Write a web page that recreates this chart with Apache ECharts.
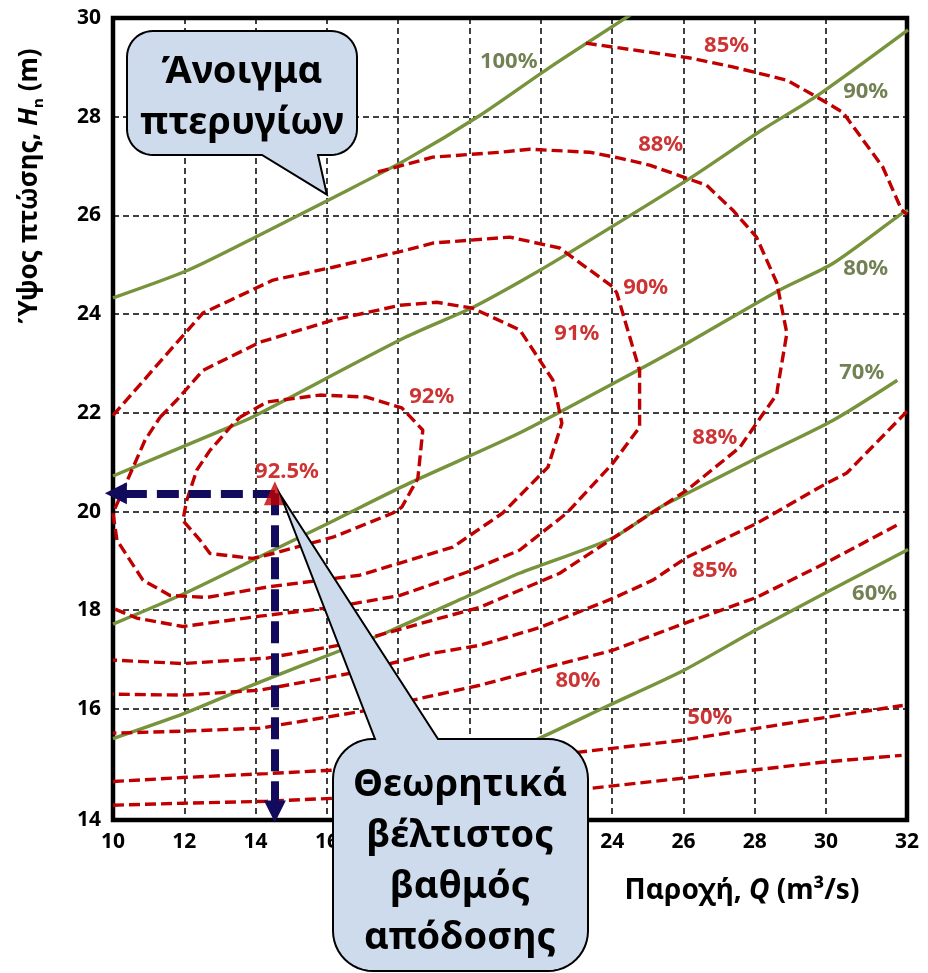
<!DOCTYPE html>
<html>
<head>
<meta charset="utf-8">
<title>Καμπύλες απόδοσης στροβίλου</title>
<script src="https://cdn.jsdelivr.net/npm/echarts@6/dist/echarts.min.js"></script>
<style>
  html, body { margin: 0; padding: 0; background: #fff; }
  #chart { width: 928px; height: 973px; }
</style>
</head>
<body>
<div id="chart"></div>
<script>
// axis ranges + tick labels
const X_MIN = 10
const X_MAX = 32.27
const Y_MIN = 13.75
const Y_MAX = 30
const xTickLabels = [10, 12, 14, 16, 18, 20, 22, 24, 26, 28, 30, 32]
const yTickLabels = [14, 16, 18, 20, 22, 24, 26, 28, 30]

// guide vane opening lines (green)
const vane100 = [[10, 24.33], [12.1, 24.89], [14.1, 25.6], [16.2, 26.37], [18.2, 27.12], [20.3, 28.03], [22.25, 29.0], [24.7, 30.15]]
const vane90 = [[10, 20.72], [13.2, 21.69], [13.9, 21.91], [18.2, 23.53], [20.1, 24.14], [21.4, 24.65], [22.7, 25.2], [26.2, 26.76], [28.2, 27.73], [29.7, 28.4], [32.3, 29.76]]
const vane80 = [[10, 17.72], [12, 18.34], [14.3, 19.15], [16.2, 19.82], [18.3, 20.57], [21.4, 21.59], [24.2, 22.66], [26.1, 23.41], [28.7, 24.49], [30.2, 25.03], [32.15, 26.05], [32.3, 26.1]]
const vane70 = [[10, 15.4], [12, 15.91], [14.1, 16.54], [16.4, 17.19], [17.8, 17.59], [20.3, 18.4], [21.4, 18.75], [24, 19.46], [25.3, 20.07], [26, 20.33], [28.1, 21.1], [30.2, 21.85], [32, 22.66]]
const vane60 = [[17.6, 14.0], [20, 14.78], [22, 15.42], [23.9, 16.07], [26, 16.78], [28, 17.59], [30, 18.36], [32.3, 19.23]]

// efficiency contours (red dashed)
const eta92 = [[13.56, 21.91], [14.32, 22.22], [15.8, 22.36], [17.12, 22.32], [18.1, 22.1], [18.69, 21.65], [18.55, 20.67], [18.1, 20.09], [17.85, 19.97], [16.17, 19.48], [14.49, 19.15], [13.92, 19.05], [12.72, 19.15], [12.44, 19.42], [11.96, 19.82], [12.07, 20.23], [12.35, 20.84], [12.72, 21.24], [13.34, 21.75], [13.56, 21.91]]
const eta91 = [[11.32, 21.91], [11.79, 22.26], [12.52, 22.86], [14.12, 23.43], [16.17, 23.88], [18.05, 24.18], [19.08, 24.24], [20.09, 24.12], [21.41, 23.68], [22.34, 22.66], [22.59, 21.79], [22.2, 20.9], [20.93, 19.97], [19.53, 19.28], [16.92, 18.71], [14.32, 18.47], [12.64, 18.26], [11.6, 18.3], [10.84, 18.61], [10.11, 19.42], [10, 19.97], [10.28, 20.43], [10.9, 21.45], [11.32, 21.91]]
const eta90 = [[10, 21.95], [12.52, 24.02], [14.49, 24.69], [16.17, 24.95], [18.24, 25.3], [18.97, 25.44], [21.13, 25.56], [22.53, 25.34], [24.02, 24.55], [24.13, 24.43], [24.77, 22.86], [24.77, 21.71], [24.02, 20.98], [22.73, 19.97], [21.41, 19.22], [19.92, 18.77], [18.05, 18.3], [16.17, 18.06], [14.12, 17.88], [11.96, 17.67], [10.67, 17.84], [10, 18.04]]
const eta88 = [[17.43, 26.88], [18.97, 27.18], [20.85, 27.28], [21.69, 27.34], [23.37, 27.28], [24.21, 27.16], [25.05, 27.02], [26.65, 26.61], [27.38, 26.11], [28.05, 25.56], [28.62, 24.63], [28.9, 23.61], [28.64, 22.5], [28.62, 22.38], [27.58, 21.3], [26.09, 20.43], [24.49, 19.68], [22.53, 18.75], [20.29, 18.06], [18.97, 17.8], [16.64, 17.33], [14.32, 17.03], [11.96, 16.92], [10, 16.99]]
const eta85Top = [[23.26, 29.49], [26.18, 29.19], [27.38, 29.01], [28.9, 28.74], [29.74, 28.4], [30.47, 28.09], [31.59, 26.98], [32.12, 26.11], [32.27, 26.02]]
const eta85Low = [[32.27, 22.03], [30.58, 20.78], [30.01, 20.57], [28.05, 19.76], [26.09, 19.07], [25.14, 18.61], [24.02, 18.24], [21.97, 17.65], [20.29, 17.29], [18.97, 17.13], [16.64, 16.72], [14.12, 16.38], [11.96, 16.28], [10, 16.3]]
const eta80 = [[31.98, 19.72], [30.02, 18.97], [28.05, 18.26], [25.9, 17.7], [24.02, 17.19], [22.73, 16.95], [20.29, 16.48], [18.97, 16.27], [17.12, 15.97], [14.12, 15.61], [11.96, 15.55], [10, 15.51]]
const eta50 = [[10, 14.53], [11.96, 14.61], [14.32, 14.69], [16.17, 14.76], [20, 14.93], [23.01, 15.12], [25.9, 15.36], [29.82, 15.81], [32.15, 16.07]]
const etaLow = [[10, 14.05], [11.96, 14.09], [14.32, 14.13], [16.17, 14.19], [23.37, 14.39], [25.9, 14.59], [29.88, 14.92], [32.12, 15.06]]

// best efficiency point + arrow ends
const optimum = [14.54, 20.37]
const optimumToH = [10.08, 20.37]
const optimumToQ = [14.54, 13.92]

// text labels [Q, H, text]
const vaneLabels = [[21.1, 29.11, '100%'], [31.11, 28.5, '90%'], [31.11, 24.91, '80%'], [31.0, 22.82, '70%'], [31.36, 18.34, '60%']]
const etaLabels = [[27.21, 29.43, '85%'], [25.36, 27.43, '88%'], [24.94, 24.53, '90%'], [23.01, 23.61, '91%'], [18.94, 22.32, '92%'], [14.88, 20.8, '92.5%'], [26.88, 21.49, '88%'], [26.88, 18.81, '85%'], [23.04, 16.58, '80%'], [26.74, 15.83, '50%']]

// callout anchor points (data coords)
const vaneCalloutTip = [16.0, 26.42]
const optimumCalloutTip = [14.71, 20.32]

const FONT = '"Noto Sans", "DejaVu Sans", sans-serif'
const GREEN = '#77933C'
const GREEN_TEXT = '#4F6228'
const RED = '#C00000'
const NAVY = '#120A5C'
const CALLOUT_FILL = '#CDDBEC'

const chart = echarts.init(document.getElementById('chart'))

function vaneSeries (data) {
  return {
    type: 'line',
    data: data,
    symbol: 'none',
    smooth: 0.25,
    lineStyle: { color: GREEN, width: 3.4 },
    z: 3
  }
}

function etaSeries (data) {
  return {
    type: 'line',
    data: data,
    symbol: 'none',
    lineStyle: { color: RED, width: 3.4, type: [11, 5] },
    z: 4
  }
}

function labelSeries (data, color) {
  return {
    type: 'scatter',
    data: data,
    symbolSize: 1,
    itemStyle: { color: 'transparent' },
    label: {
      show: true,
      position: 'inside',
      formatter: p => p.data[2],
      color: color,
      fontFamily: FONT,
      fontWeight: 'bold',
      fontSize: 22
    },
    z: 6
  }
}

const tickFont = { color: '#000', fontFamily: FONT, fontWeight: 'bold', fontSize: 21 }
const gridLine = { show: true, lineStyle: { color: '#000', width: 1.5, type: [6, 4] } }

chart.setOption({
  animation: false,
  grid: {
    left: 113,
    top: 18,
    right: 21,
    bottom: 153,
    show: true,
    borderColor: '#000',
    borderWidth: 4.5,
    outerBoundsMode: 'none'
  },
  xAxis: {
    type: 'value',
    min: X_MIN,
    max: X_MAX,
    axisLine: { show: false },
    axisTick: { show: false, customValues: xTickLabels.filter(v => v > X_MIN && v < 32) },
    splitLine: gridLine,
    axisLabel: Object.assign({
      margin: 12,
      customValues: xTickLabels.slice(0, -1).concat([X_MAX]),
      formatter: v => String(Math.round(v))
    }, tickFont)
  },
  yAxis: {
    type: 'value',
    min: Y_MIN,
    max: Y_MAX,
    axisLine: { show: false },
    axisTick: { show: false, customValues: yTickLabels.filter(v => v > 14 && v < Y_MAX) },
    splitLine: gridLine,
    axisLabel: Object.assign({
      margin: 12,
      customValues: [Y_MIN].concat(yTickLabels.slice(1)),
      formatter: v => String(Math.round(v))
    }, tickFont)
  },
  series: [
    vaneSeries(vane100),
    vaneSeries(vane90),
    vaneSeries(vane80),
    vaneSeries(vane70),
    vaneSeries(vane60),
    etaSeries(eta92),
    etaSeries(eta91),
    etaSeries(eta90),
    etaSeries(eta88),
    etaSeries(eta85Top),
    etaSeries(eta85Low),
    etaSeries(eta80),
    etaSeries(eta50),
    etaSeries(etaLow),
    {
      // dashed arrows to the axes
      type: 'lines',
      coordinateSystem: 'cartesian2d',
      clip: false,
      symbol: ['none', 'triangle'],
      symbolSize: 22,
      lineStyle: { color: NAVY, width: 8, type: [22, 10], opacity: 1 },
      data: [{ coords: [optimum, optimumToH] }, { coords: [optimum, optimumToQ] }],
      z: 5
    },
    {
      type: 'scatter',
      data: [optimum],
      symbol: 'triangle',
      symbolSize: [22, 24],
      itemStyle: { color: RED },
      z: 6
    },
    labelSeries(vaneLabels, GREEN_TEXT),
    labelSeries(etaLabels, RED)
  ]
})

// callouts: boxes are layout (px), tips come from the data scale
const tipA = chart.convertToPixel({ gridIndex: 0 }, vaneCalloutTip)
const tipB = chart.convertToPixel({ gridIndex: 0 }, optimumCalloutTip)

// rounded box outline with a pointer, as polygon points
function calloutPoints (x0, y0, x1, y1, r, side, b1, b2, tip) {
  const pts = []
  const arc = (cx, cy, a0, a1) => {
    for (let i = 0; i <= 12; i++) {
      const a = (a0 + (a1 - a0) * i / 12) * Math.PI / 180
      pts.push([cx + r * Math.cos(a), cy + r * Math.sin(a)])
    }
  }
  arc(x0 + r, y0 + r, 180, 270)
  if (side === 'top') pts.push([b1, y0], tip, [b2, y0])
  arc(x1 - r, y0 + r, 270, 360)
  arc(x1 - r, y1 - r, 0, 90)
  if (side === 'bottom') pts.push([b2, y1], tip, [b1, y1])
  arc(x0 + r, y1 - r, 90, 180)
  return pts
}

function boxText (text, x, y) {
  return {
    type: 'text',
    z: 101,
    style: {
      text: text,
      x: x,
      y: y,
      fill: '#000',
      font: 'bold 38px ' + FONT,
      lineHeight: 51,
      textAlign: 'center',
      align: 'center',
      textVerticalAlign: 'middle',
      verticalAlign: 'middle'
    }
  }
}

chart.setOption({
  graphic: [
    {
      type: 'polygon',
      z: 100,
      shape: { points: calloutPoints(127, 31, 357, 155, 26, 'bottom', 262, 318, tipA) },
      style: { fill: CALLOUT_FILL, stroke: '#000', lineWidth: 2 }
    },
    boxText('Άνοιγμα\nπτερυγίων', 242, 98),
    {
      type: 'polygon',
      z: 100,
      shape: { points: calloutPoints(333, 739, 588, 971, 40, 'top', 375, 438, tipB) },
      style: { fill: CALLOUT_FILL, stroke: '#000', lineWidth: 2 }
    },
    boxText('Θεωρητικά\nβέλτιστος\nβαθμός\nαπόδοσης', 460, 862),
    {
      // x axis title
      type: 'text',
      x: 742,
      y: 891,
      style: {
        text: '{a|Παροχή, }{i|Q}{a| (m³/s)}',
        x: 0,
        y: 0,
        textAlign: 'center',
        align: 'center',
        textVerticalAlign: 'middle',
        verticalAlign: 'middle',
        rich: {
          a: { fontFamily: FONT, fontWeight: 'bold', fontSize: 28, lineHeight: 34, fill: '#000' },
          i: { fontFamily: FONT, fontWeight: 'bold', fontStyle: 'italic', fontSize: 28, lineHeight: 34, fill: '#000' }
        }
      }
    },
    {
      // y axis title
      type: 'text',
      x: 30,
      y: 186,
      rotation: Math.PI / 2,
      style: {
        text: '{a|Ύψος πτώσης, }{i|H}{s|n}{a| (m)}',
        x: 0,
        y: 0,
        textAlign: 'center',
        align: 'center',
        textVerticalAlign: 'middle',
        verticalAlign: 'middle',
        rich: {
          a: { fontFamily: FONT, fontWeight: 'bold', fontSize: 26, lineHeight: 32, fill: '#000' },
          i: { fontFamily: FONT, fontWeight: 'bold', fontStyle: 'italic', fontSize: 26, lineHeight: 32, fill: '#000' },
          s: { fontFamily: FONT, fontWeight: 'bold', fontSize: 15, lineHeight: 18, verticalAlign: 'bottom', fill: '#000' }
        }
      }
    }
  ]
})
</script>
</body>
</html>
